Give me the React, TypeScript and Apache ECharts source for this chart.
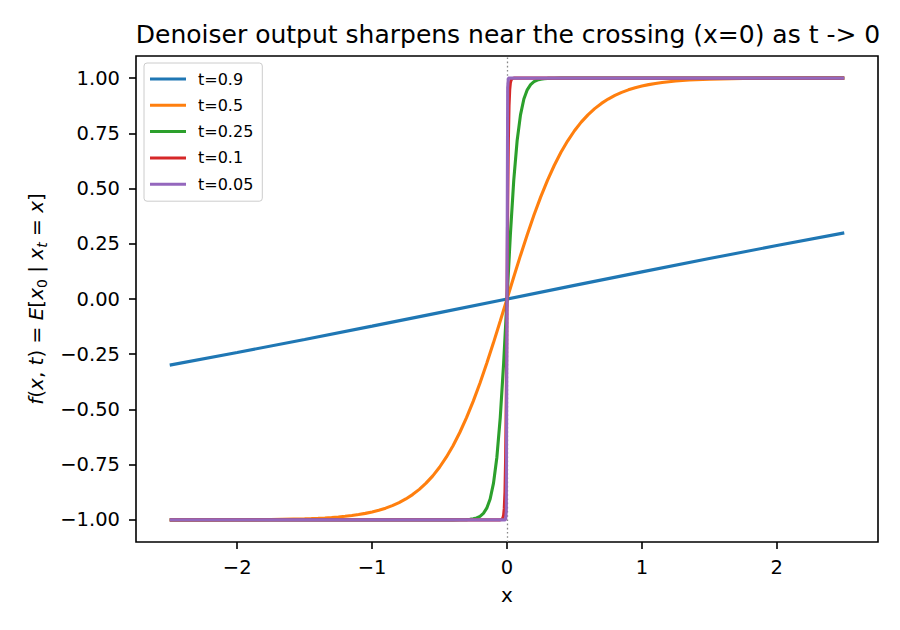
import { useEffect, useRef } from 'react'
import * as echarts from 'echarts'

const FONT = 'DejaVu Sans'

// tab10 colours, one per t
const colors = ['#1f77b4', '#ff7f0e', '#2ca02c', '#d62728', '#9467bd']
const seriesNames = ['t=0.9', 't=0.5', 't=0.25', 't=0.1', 't=0.05']

const xTicks = [-2, -1, 0, 1, 2]
const yTicks = [-1, -0.75, -0.5, -0.25, 0, 0.25, 0.5, 0.75, 1]
const crossingX = 0

// values, [x, f]
const t09 = [
  [-2.5, -0.2993], [-2, -0.242], [-1.5, -0.1831], [-1, -0.1228], [-0.5, -0.0616], [0, 0],
  [0.5, 0.0616], [1, 0.1228], [1.5, 0.1831], [2, 0.242], [2.5, 0.2993]
]
const t05 = [
  [-2.5, -0.99991], [-2.25, -0.99975], [-2, -0.99933], [-1.75, -0.99818], [-1.5, -0.99505],
  [-1.45, -0.99396], [-1.4, -0.99263], [-1.35, -0.99101], [-1.3, -0.98903], [-1.25, -0.98661],
  [-1.2, -0.98367], [-1.15, -0.9801], [-1.1, -0.97574], [-1.05, -0.97045], [-1, -0.96403],
  [-0.95, -0.95624], [-0.9, -0.94681], [-0.85, -0.93541], [-0.8, -0.92167], [-0.75, -0.90515],
  [-0.7, -0.88535], [-0.65, -0.86172], [-0.6, -0.83365], [-0.55, -0.8005], [-0.5, -0.76159],
  [-0.45, -0.7163], [-0.4, -0.66404], [-0.35, -0.60437], [-0.3, -0.53705], [-0.25, -0.46212],
  [-0.2, -0.37995], [-0.15, -0.29131], [-0.1, -0.19738], [-0.05, -0.09967], [0, 0],
  [0.05, 0.09967], [0.1, 0.19738], [0.15, 0.29131], [0.2, 0.37995], [0.25, 0.46212],
  [0.3, 0.53705], [0.35, 0.60437], [0.4, 0.66404], [0.45, 0.7163], [0.5, 0.76159],
  [0.55, 0.8005], [0.6, 0.83365], [0.65, 0.86172], [0.7, 0.88535], [0.75, 0.90515],
  [0.8, 0.92167], [0.85, 0.93541], [0.9, 0.94681], [0.95, 0.95624], [1, 0.96403],
  [1.05, 0.97045], [1.1, 0.97574], [1.15, 0.9801], [1.2, 0.98367], [1.25, 0.98661],
  [1.3, 0.98903], [1.35, 0.99101], [1.4, 0.99263], [1.45, 0.99396], [1.5, 0.99505],
  [1.75, 0.99818], [2, 0.99933], [2.25, 0.99975], [2.5, 0.99991]
]
const t025 = [
  [-2.5, -1], [-1, -1], [-0.5, -0.99999], [-0.4, -0.99986], [-0.35, -0.99955], [-0.3, -0.99851],
  [-0.275, -0.99728], [-0.25, -0.99505], [-0.225, -0.99101], [-0.2, -0.98367], [-0.175, -0.97045],
  [-0.15, -0.94681], [-0.125, -0.90515], [-0.1, -0.83365], [-0.075, -0.7163], [-0.05, -0.53705],
  [-0.025, -0.29131], [0, 0],
  [0.025, 0.29131], [0.05, 0.53705], [0.075, 0.7163], [0.1, 0.83365], [0.125, 0.90515],
  [0.15, 0.94681], [0.175, 0.97045], [0.2, 0.98367], [0.225, 0.99101], [0.25, 0.99505],
  [0.275, 0.99728], [0.3, 0.99851], [0.35, 0.99955], [0.4, 0.99986], [0.5, 0.99999], [1, 1], [2.5, 1]
]
const t01 = [
  [-2.5, -1], [-0.1, -1], [-0.05, -0.99975], [-0.04, -0.99851], [-0.03, -0.99101], [-0.025, -0.97803],
  [-0.02, -0.94681], [-0.015, -0.87406], [-0.01, -0.7163], [-0.005, -0.4219], [0, 0],
  [0.005, 0.4219], [0.01, 0.7163], [0.015, 0.87406], [0.02, 0.94681], [0.025, 0.97803],
  [0.03, 0.99101], [0.04, 0.99851], [0.05, 0.99975], [0.1, 1], [2.5, 1]
]
const t005 = [
  [-2.5, -1], [-0.02, -1], [-0.015, -0.99998], [-0.01, -0.999], [-0.005, -0.95624], [0, 0],
  [0.005, 0.95624], [0.01, 0.999], [0.015, 0.99998], [0.02, 1], [2.5, 1]
]
const seriesData = [t09, t05, t025, t01, t005]

const minus = (s: string) => s.replace('-', '\u2212')

const App = () => {
  const chartRef = useRef<HTMLDivElement>(null)

  useEffect(() => {
    document.body.style.margin = '0'
    if (!chartRef.current) return
    const chart = echarts.init(chartRef.current, null, { renderer: 'svg' })

    const tickStyle = { color: '#000', width: 1.6 }
    const labelBase = { fontFamily: FONT, fontSize: 19.5, color: '#000' }

    chart.setOption({
      animation: false,
      title: {
        text: 'Denoiser output sharpens near the crossing (x=0) as t -> 0',
        left: 503,
        top: 17,
        textAlign: 'center',
        textStyle: { fontFamily: FONT, fontSize: 25, fontWeight: 'normal', color: '#000' }
      },
      grid: {
        left: 136, right: 22, top: 56, bottom: 88,
        show: true, borderColor: '#000', borderWidth: 1.6,
        outerBoundsMode: 'none'
      },
      legend: {
        orient: 'vertical',
        left: 144,
        top: 63,
        padding: [8, 9, 9, 6],
        itemWidth: 36,
        itemHeight: 3,
        itemGap: 10.3,
        icon: 'rect',
        selectedMode: false,
        backgroundColor: 'rgba(255,255,255,0.8)',
        borderColor: '#cccccc',
        borderWidth: 1,
        borderRadius: 3,
        textStyle: { fontFamily: FONT, fontSize: 16, lineHeight: 16, color: '#000', padding: [0, 0, 0, 7] },
        data: seriesNames
      },
      xAxis: {
        type: 'value',
        min: -2.75,
        max: 2.75,
        axisLine: { show: false, onZero: false },
        splitLine: { show: false },
        axisTick: { customValues: xTicks, length: 7, lineStyle: tickStyle },
        axisLabel: {
          ...labelBase,
          customValues: xTicks,
          margin: 15,
          formatter: (v: number) => minus(String(v))
        },
        name: 'x',
        nameLocation: 'middle',
        nameGap: 43,
        nameTextStyle: { fontFamily: FONT, fontSize: 20, color: '#000' }
      },
      yAxis: {
        type: 'value',
        min: -1.1,
        max: 1.1,
        axisLine: { show: false, onZero: false },
        splitLine: { show: false },
        axisTick: { customValues: yTicks, length: 7, lineStyle: tickStyle },
        axisLabel: {
          ...labelBase,
          customValues: yTicks,
          margin: 16,
          formatter: (v: number) => minus(v.toFixed(2))
        },
        name: '{i|f}({i|x}, {i|t}) = {i|E}[{i|x}{sub|0} | {i|x}{subi|t} = {i|x}]',
        nameLocation: 'middle',
        nameRotate: 90,
        nameGap: 86,
        nameTextStyle: {
          fontFamily: FONT, fontSize: 20, color: '#000', lineHeight: 26,
          rich: {
            i: { fontFamily: FONT, fontSize: 20, fontStyle: 'italic', color: '#000', lineHeight: 26 },
            sub: { fontFamily: FONT, fontSize: 14, color: '#000', lineHeight: 16, verticalAlign: 'bottom' },
            subi: { fontFamily: FONT, fontSize: 14, fontStyle: 'italic', color: '#000', lineHeight: 16, verticalAlign: 'bottom' }
          }
        }
      },
      series: seriesNames.map((name, i) => ({
        name,
        type: 'line',
        data: seriesData[i],
        showSymbol: false,
        symbol: 'none',
        clip: true,
        color: colors[i],
        lineStyle: { width: 3.1, color: colors[i] },
        z: 3 + i,
        ...(i === 0
          ? {
              markLine: {
                silent: true,
                symbol: ['none', 'none'],
                label: { show: false },
                lineStyle: { color: '#888888', width: 1.3, type: [1.6, 2.6] },
                data: [{ xAxis: crossingX }]
              }
            }
          : {})
      }))
    })

    return () => {
      chart.dispose()
    }
  }, [])

  return <div ref={chartRef} style={{ width: 900, height: 630 }} />
}

export default App
